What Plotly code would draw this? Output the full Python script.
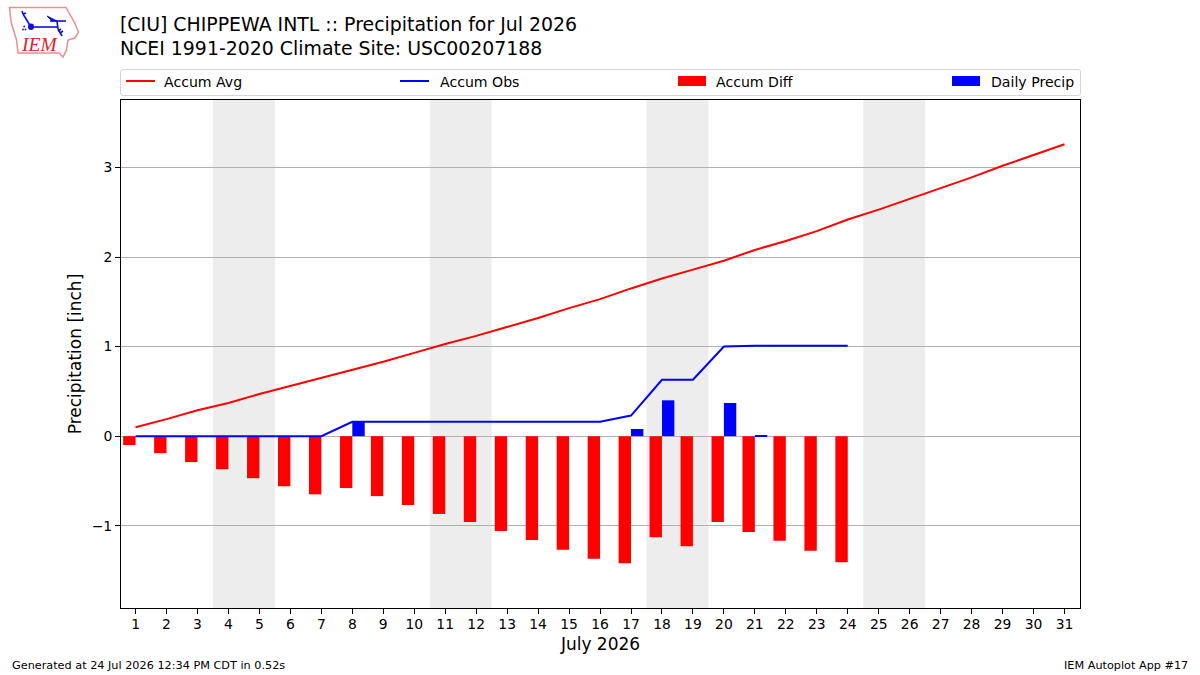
import plotly.graph_objects as go

# Precipitation for July 2026 at Chippewa Intl, values in inches
days = list(range(1, 32))
accum_avg = [0.10, 0.19, 0.29, 0.37, 0.47, 0.56, 0.65, 0.74, 0.83, 0.93, 1.03, 1.12, 1.22, 1.32,
             1.43, 1.53, 1.65, 1.76, 1.86, 1.96, 2.08, 2.18, 2.29, 2.42, 2.53, 2.65, 2.77, 2.89,
             3.02, 3.14, 3.26]
obs_days = list(range(1, 25))
accum_obs = [0, 0, 0, 0, 0, 0, 0, 0.16, 0.16, 0.16, 0.16, 0.16, 0.16, 0.16, 0.16, 0.16,
             0.23, 0.63, 0.63, 1.00, 1.01, 1.01, 1.01, 1.01]
accum_diff = [-0.10, -0.19, -0.29, -0.37, -0.47, -0.56, -0.65, -0.58, -0.67, -0.77, -0.87, -0.96,
              -1.06, -1.16, -1.27, -1.37, -1.42, -1.13, -1.23, -0.96, -1.07, -1.17, -1.28, -1.41]
daily_precip = [0, 0, 0, 0, 0, 0, 0, 0.16, 0, 0, 0, 0, 0, 0, 0, 0, 0.08, 0.40, 0, 0.37, 0.01,
                0, 0, 0]
weekend_spans = [(3.5, 5.5), (10.5, 12.5), (17.5, 19.5), (24.5, 26.5)]

TITLE_TEXT = "[CIU] CHIPPEWA INTL :: Precipitation for Jul 2026<br>NCEI 1991-2020 Climate Site: USC00207188"
FONT = "DejaVu Sans"
INK = "#000000"

# Plot area in page pixels
W, H = 1200, 675
LEFT, RIGHT, TOP, BOTTOM = 121, 1080, 100, 608


def px(x):
    return (x - LEFT) / (RIGHT - LEFT)


def py(y):
    return (BOTTOM - y) / (BOTTOM - TOP)


def page_path(points, close=False):
    body = " L".join(f"{px(x):.5f},{py(y):.5f}" for x, y in points)
    return "M" + body + (" Z" if close else "")


fig = go.Figure()
fig.add_bar(x=obs_days, y=accum_diff, offset=-0.4, width=0.4, marker=dict(color="#ff0000", line_width=0),
            name="Accum Diff")
fig.add_bar(x=obs_days, y=daily_precip, offset=0, width=0.4, marker=dict(color="#0000ff", line_width=0),
            name="Daily Precip")
fig.add_scatter(x=days, y=accum_avg, mode="lines", line=dict(color="#ff0000", width=2), name="Accum Avg")
fig.add_scatter(x=obs_days, y=accum_obs, mode="lines", line=dict(color="#0000ff", width=2), name="Accum Obs")

shapes = []
for start, end in weekend_spans:
    shapes.append(dict(type="rect", xref="x", yref="paper", x0=start, x1=end, y0=0, y1=1,
                       fillcolor="#ededed", line_width=0, layer="below"))

# Legend frame and its keys, laid out in one row above the plot
shapes.append(dict(type="path", xref="paper", yref="paper", line=dict(color="#d5d5d5", width=1),
                   fillcolor="#ffffff",
                   path=(f"M{px(123):.5f},{py(69.5):.5f} L{px(1078):.5f},{py(69.5):.5f} "
                         f"Q{px(1080.5):.5f},{py(69.5):.5f} {px(1080.5):.5f},{py(72):.5f} "
                         f"L{px(1080.5):.5f},{py(93):.5f} "
                         f"Q{px(1080.5):.5f},{py(95.5):.5f} {px(1078):.5f},{py(95.5):.5f} "
                         f"L{px(123):.5f},{py(95.5):.5f} "
                         f"Q{px(120.5):.5f},{py(95.5):.5f} {px(120.5):.5f},{py(93):.5f} "
                         f"L{px(120.5):.5f},{py(72):.5f} "
                         f"Q{px(120.5):.5f},{py(69.5):.5f} {px(123):.5f},{py(69.5):.5f} Z")))
for x0, x1, color in [(126, 155, "#ff0000"), (400, 429, "#0000ff")]:
    shapes.append(dict(type="line", xref="paper", yref="paper", x0=px(x0), x1=px(x1), y0=py(81), y1=py(81),
                       line=dict(color=color, width=2)))
for x0, x1, color in [(678, 706, "#ff0000"), (952, 980, "#0000ff")]:
    shapes.append(dict(type="rect", xref="paper", yref="paper", x0=px(x0), x1=px(x1), y0=py(76), y1=py(86),
                       fillcolor=color, line_width=0))

# Station logo: state outline with a small weather-vane emblem
LOGO_RED = "#e98f8f"
LOGO_BLUE = "#1010d8"
outline = [(9.5, 7.5), (66, 7.5), (69, 13), (74, 21.5), (78.5, 32), (75, 38), (68, 40), (66.5, 50),
           (63, 57), (59, 53), (18, 53), (16.5, 40), (11, 22)]
shapes.append(dict(type="path", xref="paper", yref="paper", path=page_path(outline, True),
                   line=dict(color=LOGO_RED, width=1.5), fillcolor="#ffffff"))
for segment in ([(31, 27), (57, 27)], [(31, 27), (23, 14)], [(23, 14), (22, 11)], [(23, 14), (26, 13)],
                [(50, 21), (66, 21)], [(57, 21), (58, 29)], [(58, 29), (62, 36)], [(58, 31), (61, 29)],
                [(60, 33), (63, 31)]):
    shapes.append(dict(type="path", xref="paper", yref="paper", path=page_path(segment),
                       line=dict(color=LOGO_BLUE, width=1.6)))
shapes.append(dict(type="path", xref="paper", yref="paper", path=page_path([(47, 16), (57, 21), (52, 21)], True),
                   fillcolor=LOGO_BLUE, line=dict(color=LOGO_BLUE, width=1)))
shapes.append(dict(type="circle", xref="paper", yref="paper", x0=px(28), x1=px(34), y0=py(23.5), y1=py(30),
                   fillcolor=LOGO_BLUE, line_width=0))
for cx, cy in [(23, 29.5), (25.5, 29.5), (24.2, 26.5)]:
    shapes.append(dict(type="circle", xref="paper", yref="paper", x0=px(cx - 0.9), x1=px(cx + 0.9),
                       y0=py(cy - 0.9), y1=py(cy + 0.9), fillcolor=LOGO_BLUE, line_width=0))


def note(text, x, y, size, anchor="left", color=INK, family=FONT):
    return dict(text=text, xref="paper", yref="paper", x=px(x), y=py(y), xanchor=anchor, yanchor="middle",
                showarrow=False, font=dict(family=family, size=size, color=color))


annotations = [
    note("Accum Avg", 161.5, 81.5, 14.1),
    note("Accum Obs", 437.5, 81.5, 14.1),
    note("Accum Diff", 713.5, 81.5, 14.1),
    note("Daily Precip", 988.5, 81.5, 14.1),
    note("Generated at 24 Jul 2026 12:34 PM CDT in 0.52s", 10, 665, 11.25),
    note("IEM Autoplot App #17", 1190, 665, 11.25, anchor="right"),
    note("<i>IEM</i>", 19, 45, 19.5, color="#d8252b", family="Liberation Serif"),
]

fig.update_layout(
    width=W, height=H, margin=dict(l=LEFT, r=W - RIGHT, t=TOP, b=H - BOTTOM, autoexpand=False),
    paper_bgcolor="#ffffff", plot_bgcolor="#ffffff", showlegend=False, barmode="overlay",
    font=dict(family=FONT, size=13.9, color=INK),
    title=dict(text=TITLE_TEXT, x=120 / W, xanchor="left", y=1 - 30.5 / H, yanchor="middle",
               font=dict(family=FONT, size=18.9, color="#000000")),
    shapes=shapes, annotations=annotations,
    xaxis=dict(range=[0.53, 31.5], tickmode="array", tickvals=days, ticktext=[str(d) for d in days],
               ticks="outside", ticklen=5, tickwidth=1, tickcolor="#000000", showgrid=False, zeroline=False,
               showline=True, linecolor="#000000", linewidth=1, mirror=True, ticklabelstandoff=-2,
               title=dict(text="July 2026", font=dict(size=17), standoff=7)),
    yaxis=dict(range=[-1.92, 3.755], tickmode="array", tickvals=[-1, 0, 1, 2, 3],
               ticktext=["\u22121", "0", "1", "2", "3"],
               ticks="outside", ticklen=5, tickwidth=1, tickcolor="#000000", showgrid=True,
               gridcolor="#b0b0b0", gridwidth=1, zeroline=False,
               showline=True, linecolor="#000000", linewidth=1, mirror=True,
               title=dict(text="Precipitation [inch]", font=dict(size=17), standoff=5)),
)

fig.write_html("out.html")
